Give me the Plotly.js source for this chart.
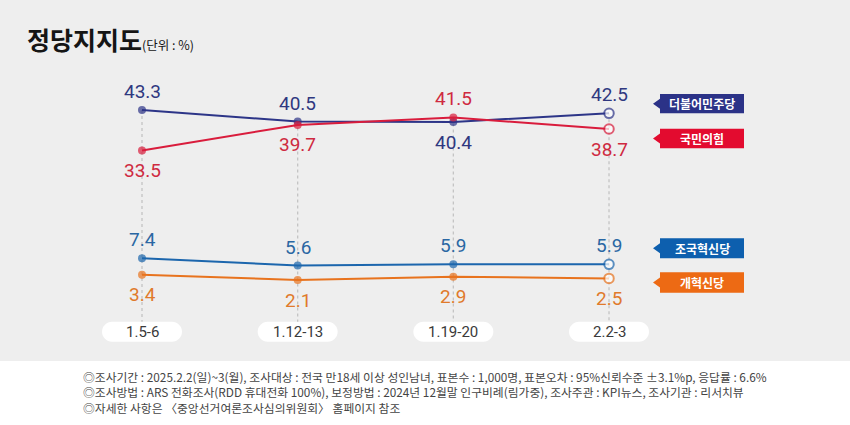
<!DOCTYPE html>
<html><head><meta charset="utf-8">
<script src="https://cdn.plot.ly/plotly-3.0.1.min.js"></script>
<style>html,body{margin:0;padding:0;background:#eeeeee}</style>
</head><body>
<div id="chart" style="width:850px;height:425px"></div>
<script>
// ---- data ----
const categories = ['1.5-6', '1.12-13', '1.19-20', '2.2-3'];
const seriesNames = ['더불어민주당', '국민의힘', '조국혁신당', '개혁신당'];
const minjoo  = [43.3, 40.5, 40.4, 42.5];
const ppp     = [33.5, 39.7, 41.5, 38.7];
const rebuild = [7.4, 5.6, 5.9, 5.9];
const reform  = [3.4, 2.1, 2.9, 2.5];
// label side: 1 = above point, -1 = below
const labelSide = [[1, 1, -1, 1], [-1, -1, 1, -1], [1, 1, 1, 1], [-1, -1, -1, -1]];
const titleText = '정당지지도';
const unitText = '(단위 : %)';
const footnotes = [
  '◎조사기간 : 2025.2.2(일)~3(월), 조사대상 : 전국 만18세 이상 성인남녀, 표본수 : 1,000명, 표본오차 : 95%신뢰수준 ±3.1%p, 응답률 : 6.6%',
  '◎조사방법 : ARS 전화조사(RDD 휴대전화 100%), 보정방법 : 2024년 12월말 인구비례(림가중), 조사주관 : KPI뉴스, 조사기관 : 리서치뷰',
  '◎자세한 사항은 〈중앙선거여론조사심의위원회〉 홈페이지 참조'
];

// ---- styling / layout ----
const W = 850, H = 425;
const X0 = 142, DX = 155.67;      // pixel of first category, spacing
const Y0 = 288.7, DY = 4.126;     // pixel of value 0, pixels per unit
const px = v => v / W;
const py = v => 1 - v / H;
const series = [minjoo, ppp, rebuild, reform];
const lineColors  = ['#2d3588', '#d91c3c', '#1c66ad', '#e8731e'];
const labelColors = ['#2f3880', '#cf2a40', '#2a67a3', '#e07a2b'];
const boxColors   = ['#2b3287', '#e30b2f', '#0d5fae', '#ed6a14'];
const boxY = [[94, 113.3], [128.7, 148.3], [238.3, 258.3], [272.3, 292.7]];
const xs = categories.map((c, i) => i);

const traces = series.map((vals, s) => ({
  x: xs, y: vals, type: 'scatter', mode: 'lines+markers', name: seriesNames[s],
  hoverinfo: 'skip', showlegend: false, cliponaxis: false,
  line: {color: lineColors[s], width: 2},
  marker: {
    color: vals.map((v, i) => i === vals.length - 1 ? '#ffffff' : lineColors[s]),
    size: vals.map((v, i) => i === vals.length - 1 ? 9.5 : 8),
    line: {color: lineColors[s], width: vals.map((v, i) => i === vals.length - 1 ? 2 : 0)}
  }
}));

const annotations = [];
series.forEach((vals, s) => vals.forEach((v, i) => {
  annotations.push({
    x: i, y: v, xref: 'x', yref: 'y', text: v.toFixed(1), showarrow: false,
    yshift: labelSide[s][i] > 0 ? 18.5 : -20, xanchor: 'center', yanchor: 'middle',
    font: {family: 'Roboto, sans-serif', size: 19, color: labelColors[s]}
  });
}));
categories.forEach((c, i) => annotations.push({
  x: i, y: py(331.7), xref: 'x', yref: 'paper', text: c, showarrow: false,
  xanchor: 'center', yanchor: 'middle',
  font: {family: 'Roboto, sans-serif', size: 15, color: '#3a3a3a'}
}));
seriesNames.forEach((n, s) => annotations.push({
  x: px(702), y: py((boxY[s][0] + boxY[s][1]) / 2), xref: 'paper', yref: 'paper',
  text: n, showarrow: false, xanchor: 'center', yanchor: 'middle',
  font: {family: 'Noto Sans CJK KR', size: 12, color: '#ffffff', weight: 'bold'}
}));
annotations.push({
  x: px(81), y: py(391.7), xref: 'paper', yref: 'paper', text: footnotes.join('<br>'),
  showarrow: false, xanchor: 'left', yanchor: 'middle', align: 'left',
  font: {family: 'Noto Sans CJK KR', size: 11.8, color: '#444444'}
});

const shapes = [];
shapes.push({type: 'rect', xref: 'paper', yref: 'paper', x0: 0, x1: 1, y0: 0, y1: py(361),
  fillcolor: '#ffffff', line: {width: 0}, layer: 'below'});
const pillTopVal = (Y0 - 321.7) / DY;
categories.forEach((c, i) => {
  const top = Math.max(...series.map(v => v[i]));
  shapes.push({type: 'line', xref: 'x', yref: 'y', x0: i, x1: i, y0: top, y1: pillTopVal,
    line: {color: '#c4c4c4', width: 1.3, dash: 'dot'}, layer: 'below'});
  const w = 40, h = 10, k = 5.523;
  shapes.push({type: 'path', xref: 'x', yref: 'paper', xsizemode: 'pixel', ysizemode: 'pixel',
    xanchor: i, yanchor: py(331.7),
    path: `M ${-w + h},${-h} L ${w - h},${-h} C ${w - h + k},${-h} ${w},${-k} ${w},0 C ${w},${k} ${w - h + k},${h} ${w - h},${h} L ${-w + h},${h} C ${-w + h - k},${h} ${-w},${k} ${-w},0 C ${-w},${-k} ${-w + h - k},${-h} ${-w + h},${-h} Z`,
    fillcolor: '#ffffff', line: {width: 0}, layer: 'below'});
});
seriesNames.forEach((n, s) => {
  const [t, b] = boxY[s], cy = (t + b) / 2;
  shapes.push({type: 'path', xref: 'paper', yref: 'paper',
    path: `M ${px(653)},${py(cy)} L ${px(660)},${py(cy - 5)} L ${px(660)},${py(t)} L ${px(744)},${py(t)} L ${px(744)},${py(b)} L ${px(660)},${py(b)} L ${px(660)},${py(cy + 5)} Z`,
    fillcolor: boxColors[s], line: {width: 0}});
});

const layout = {
  width: W, height: H,
  margin: {l: 0, r: 0, t: 0, b: 0, pad: 0},
  paper_bgcolor: '#eeeeee', plot_bgcolor: 'rgba(0,0,0,0)',
  title: {
    text: '<b>' + titleText + '</b><span style="font-size:12.5px">' + unitText + '</span>',
    x: px(27), xref: 'paper', xanchor: 'left', y: py(41), yref: 'paper', yanchor: 'middle',
    font: {family: 'Noto Sans CJK KR', size: 25, color: '#151515'}
  },
  xaxis: {visible: false, range: [-X0 / DX, (W - X0) / DX], fixedrange: true},
  yaxis: {visible: false, range: [-(H - Y0) / DY, Y0 / DY], fixedrange: true},
  shapes: shapes, annotations: annotations, showlegend: false
};
Plotly.newPlot('chart', traces, layout, {displayModeBar: false, staticPlot: true});
</script>
</body></html>
